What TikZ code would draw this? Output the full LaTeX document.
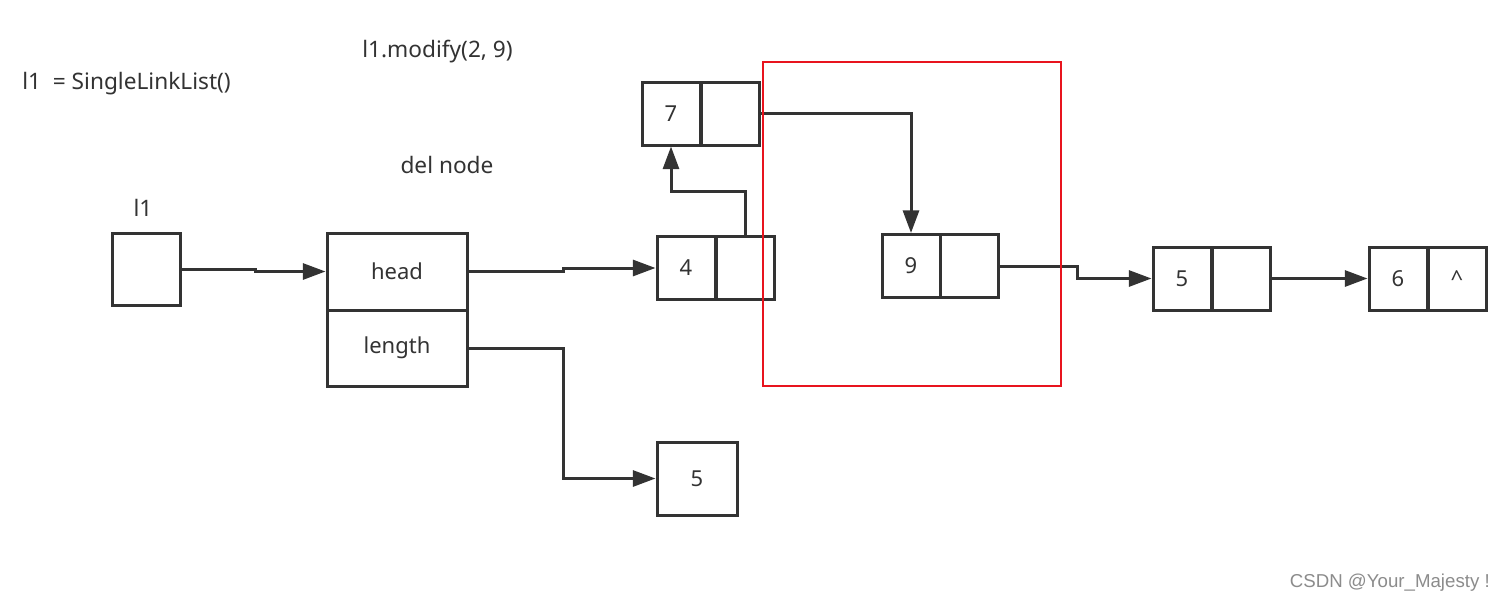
\documentclass[tikz,border=0pt]{standalone}
\usepackage{fontspec}
\setmainfont{Noto Sans}
\newfontfamily\wmfont{Liberation Sans}
\usetikzlibrary{arrows.meta,calc}
\definecolor{ink}{HTML}{333333}
\definecolor{redline}{HTML}{E8141E}
\tikzset{
  cell/.style={draw=ink, line width=2.25pt, inner sep=0pt, text=ink, font=\fontsize{16.5}{19}\selectfont},
  sq/.style={cell, minimum width=43.5pt, minimum height=47.25pt},
  conn/.style={draw=ink, line width=2.25pt, -{Triangle[length=17pt,width=12pt]}},
  lbl/.style={text=ink, font=\fontsize{17}{20}\selectfont, inner sep=0pt}
}
\begin{document}
\begin{tikzpicture}[x=0.75pt,y=-0.75pt]
\useasboundingbox[fill=white] (0,0) rectangle (1504,604);

% texts
\node[lbl, anchor=west] (title) at (22,84) {l1\ \ = SingleLinkList()};
\node[lbl, anchor=west] (modify) at (362,52) {l1.modify(2, 9)};
\node[lbl] (delnode) at (447,165) {del node};
\node[lbl] (l1lbl) at (143,208) {l1};

% boxes
\node[cell, minimum width=51pt, minimum height=54pt] (l1box) at (146,269) {};
\node[cell, minimum width=105pt, minimum height=57.75pt] (head) at (397,271.5) {head};
\node[cell, minimum width=105pt, minimum height=57pt] (length) at (397,348) {length};

\node[sq] (n4a) at (686,268) {4};
\node[sq] (n4b) at (745,268) {};
\node[sq] (n7a) at (671,113.5) {7};
\node[sq] (n7b) at (730.5,113.5) {};
\node[sq] (n9a) at (911,266) {9};
\node[sq] (n9b) at (969,266) {};
\node[sq] (n5a) at (1182,278.5) {5};
\node[sq] (n5b) at (1241,278.5) {};
\node[sq] (n6a) at (1398,278.5) {6};
\node[sq] (n6b) at (1457,278.5) {\^{}};
\node[cell, minimum width=60pt, minimum height=54.75pt] (len5) at (697,478.5) {5};

% connectors
\draw[conn] (l1box.east) -- ++(74,0) |- (head.west);
\draw[conn] (head.east) -- ++(95,0) |- (n4a.west);
\draw[conn] (n4b.north) -- ++(0,-44) -| (n7a.south);
\draw[conn] (n7b.east) -| (n9a.north);
\draw[conn] (n9b.east) -- ++(78,0) |- (n5a.west);
\draw[conn] (n5b.east) -- (n6a.west);
\draw[conn] (length.east) -- ++(95,0) |- (len5.west);

% red frame
\node[draw=redline, line width=0.9pt, minimum width=223.5pt, minimum height=243pt, inner sep=0pt] (frame) at (912,224) {};

% watermark
\node[text=black!45, font=\wmfont\fontsize{14}{16}\selectfont, anchor=east, inner sep=0pt] (wm) at (1490,583) {CSDN @Your\_Majesty !};
\end{tikzpicture}
\end{document}
